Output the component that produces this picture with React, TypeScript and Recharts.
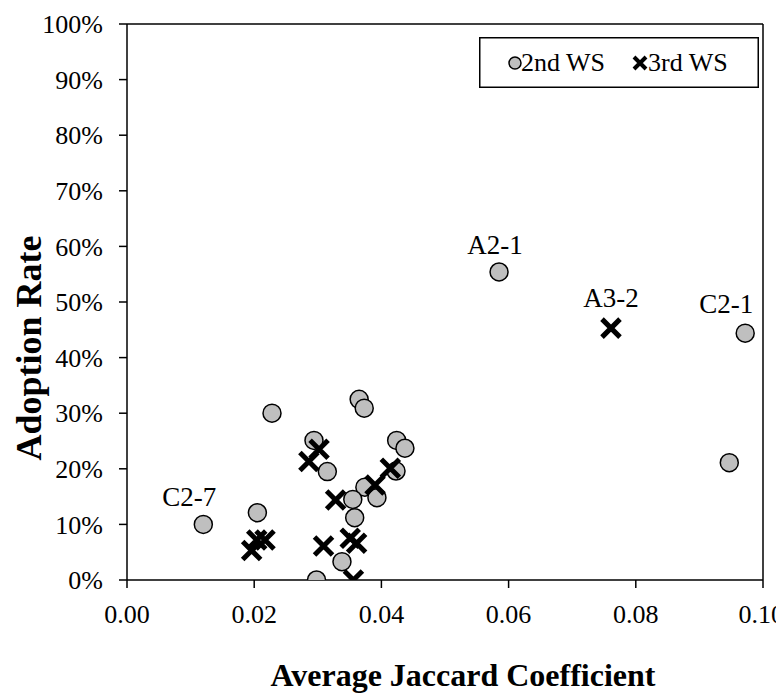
import React from "react";
import {
  ScatterChart,
  Scatter,
  XAxis,
  YAxis,
  ReferenceLine,
  Legend,
} from "recharts";

const FONT = "'Liberation Serif', 'Times New Roman', serif";

// 2nd WS: [coefficient, adoption rate, label]
const ws2X = [0.012, 0.0205, 0.0228, 0.0294, 0.0315, 0.0365, 0.0373, 0.0424, 0.0437, 0.0423, 0.0374, 0.0393, 0.0355, 0.0358, 0.0338, 0.0298, 0.0585, 0.0972, 0.0947];
const ws2Y = [0.1, 0.121, 0.3, 0.251, 0.195, 0.325, 0.309, 0.251, 0.237, 0.196, 0.167, 0.148, 0.145, 0.112, 0.033, 0.0, 0.554, 0.444, 0.211];
const ws2Labels: Record<number, string> = { 0: "C2-7", 16: "A2-1", 17: "C2-1" };

// 3rd WS
const ws3X = [0.0196, 0.0204, 0.0217, 0.0286, 0.0302, 0.0328, 0.039, 0.0414, 0.0309, 0.0351, 0.0361, 0.0356, 0.0761];
const ws3Y = [0.053, 0.072, 0.072, 0.213, 0.235, 0.144, 0.171, 0.201, 0.061, 0.075, 0.066, 0.0, 0.453];
const ws3Labels: Record<number, string> = { 12: "A3-2" };

const xTicks = [0, 0.02, 0.04, 0.06, 0.08, 0.1];
const yTicks = [0, 0.1, 0.2, 0.3, 0.4, 0.5, 0.6, 0.7, 0.8, 0.9, 1.0];

const ws2 = ws2X.map((x, i) => ({ x, y: ws2Y[i], label: ws2Labels[i] }));
const ws3 = ws3X.map((x, i) => ({ x, y: ws3Y[i], label: ws3Labels[i] }));

// label nudges (px) relative to the point
const labelOffset: Record<string, [number, number]> = {
  "C2-7": [-14, -18],
  "A2-1": [-4, -18],
  "C2-1": [-19, -20],
  "A3-2": [0, -21],
};

function PointLabel({ cx, cy, label }: { cx: number; cy: number; label?: string }) {
  if (!label) return null;
  const [dx, dy] = labelOffset[label] || [0, -18];
  return (
    <text x={cx + dx} y={cy + dy} textAnchor="middle" fontFamily={FONT} fontSize={27} fill="#000">
      {label}
    </text>
  );
}

const CircleShape = (props: any) => {
  const { cx, cy, payload } = props;
  return (
    <g>
      <circle cx={cx} cy={cy} r={9} fill="#bfbfbf" stroke="#000" strokeWidth={1.5} />
      <PointLabel cx={cx} cy={cy} label={payload.label} />
    </g>
  );
};

const CrossShape = (props: any) => {
  const { cx, cy, payload } = props;
  const d = 9;
  return (
    <g>
      <path
        d={`M${cx - d},${cy - d}L${cx + d},${cy + d}M${cx - d},${cy + d}L${cx + d},${cy - d}`}
        stroke="#000"
        strokeWidth={5}
        fill="none"
      />
      <PointLabel cx={cx} cy={cy} label={payload.label} />
    </g>
  );
};

const renderLegend = () => (
  <svg width={280} height={51} style={{ display: "block" }}>
    <rect x={0.75} y={0.75} width={278.5} height={49.5} fill="#fff" stroke="#000" strokeWidth={1.5} />
    <circle cx={36} cy={26} r={6} fill="#bfbfbf" stroke="#000" strokeWidth={1.5} />
    <text x={42} y={34} fontFamily={FONT} fontSize={26} fill="#000">2nd WS</text>
    <path d="M155,20L167,32M155,32L167,20" stroke="#000" strokeWidth={4} />
    <text x={169} y={34} fontFamily={FONT} fontSize={26} fill="#000">3rd WS</text>
  </svg>
);

const tickStyle = { fontFamily: FONT, fontSize: 26, fill: "#000" };

export default function App() {
  return (
    <ScatterChart width={776} height={685} margin={{ top: 16, right: 21, left: 0, bottom: 0 }}>
      <XAxis
        type="number"
        dataKey="x"
        domain={[0, 0.1]}
        ticks={xTicks}
        tickFormatter={(v: number) => v.toFixed(2)}
        height={113}
        tickSize={8}
        tickMargin={17}
        tick={tickStyle}
        stroke="#000"
        strokeWidth={1.5}
        allowDataOverflow
        label={{
          content: (p: any) => {
            const vb = p.viewBox;
            return (
              <text
                x={vb.x + vb.width / 2 + 18}
                y={vb.y + 106}
                textAnchor="middle"
                fontFamily={FONT}
                fontWeight="bold"
                fontSize={32}
                fill="#000"
              >
                Average Jaccard Coefficient
              </text>
            );
          },
        }}
      />
      <YAxis
        type="number"
        dataKey="y"
        domain={[0, 1]}
        ticks={yTicks}
        tickFormatter={(v: number) => `${Math.round(v * 100)}%`}
        width={119}
        tickSize={8}
        tickMargin={16}
        tick={tickStyle}
        stroke="#000"
        strokeWidth={1.5}
        allowDataOverflow
        label={{
          content: () => (
            <text
              x={33}
              y={340}
              transform="rotate(-90, 33, 340)"
              textAnchor="middle"
              fontFamily={FONT}
              fontWeight="bold"
              fontSize={36}
              fill="#000"
            >
              Adoption Rate
            </text>
          ),
        }}
      />
      <ReferenceLine y={1} stroke="#000" strokeWidth={1.5} />
      <ReferenceLine x={0.1} stroke="#000" strokeWidth={1.5} />
      <Legend
        layout="horizontal"
        verticalAlign="middle"
        align="center"
        content={renderLegend}
        wrapperStyle={{ top: 29, left: 471, width: 280, height: 51 }}
      />
      <Scatter name="2nd WS" data={ws2} shape={CircleShape} isAnimationActive={false} />
      <Scatter name="3rd WS" data={ws3} shape={CrossShape} isAnimationActive={false} />
    </ScatterChart>
  );
}
